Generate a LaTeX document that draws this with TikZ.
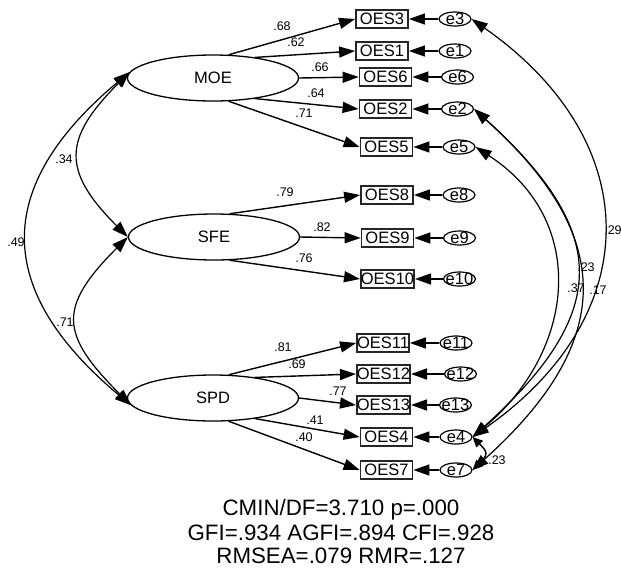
\documentclass[tikz,border=0pt]{standalone}
\usepackage{fontspec}
\setmainfont{Liberation Sans}
\usetikzlibrary{arrows.meta,shapes.geometric}
\begin{document}
\begin{tikzpicture}[x=1pt,y=1pt,
 lat/.style={ellipse, draw, line width=1.3pt, minimum width=171pt, minimum height=46pt, inner sep=0pt, font=\fontsize{16.5}{18}\selectfont},
 obs/.style={rectangle, draw=black!85, line width=1.8pt, minimum width=52pt, minimum height=18pt, inner sep=0pt, font=\fontsize{16.5}{18}\selectfont},
 err/.style={ellipse, draw, line width=1.2pt, minimum width=32pt, minimum height=14pt, inner sep=0pt},
 errt/.style={inner sep=0pt, font=\fontsize{16.5}{18}\selectfont},
 ld/.style={-{Triangle[length=16pt,width=11pt]}, line width=1.4pt},
 cov/.style={{Triangle[length=16pt,width=11pt]}-{Triangle[length=16pt,width=11pt]}, line width=1.2pt},
 covs/.style={{Triangle[length=10pt,width=9pt]}-{Triangle[length=10pt,width=9pt]}, line width=1.4pt},
 lab/.style={font=\fontsize{12.5}{13}\selectfont, inner sep=0pt},
 fitt/.style={font=\fontsize{22.3}{24}\selectfont, inner sep=0pt, anchor=base}
]
\useasboundingbox (0,0) rectangle (621,-574);

% latent variables
\node[lat] (MOE) at (213,-78) {MOE};
\node[lat] (SFE) at (214,-237) {SFE};
\node[lat] (SPD) at (213,-398) {SPD};

% observed variables
\node[obs] (OES3) at (382,-19) {OES3};
\node[obs] (OES1) at (382,-51) {OES1};
\node[obs] (OES6) at (385.5,-77) {OES6};
\node[obs] (OES2) at (385.5,-109) {OES2};
\node[obs] (OES5) at (386.5,-147) {OES5};
\node[obs] (OES8) at (387,-195) {OES8};
\node[obs] (OES9) at (387.5,-238) {OES9};
\node[obs] (OES10) at (387.5,-279) {OES10};
\node[obs] (OES11) at (383,-343) {OES11};
\node[obs] (OES12) at (383.5,-374) {OES12};
\node[obs] (OES13) at (383.5,-405) {OES13};
\node[obs] (OES4) at (386.5,-437) {OES4};
\node[obs] (OES7) at (386.5,-470) {OES7};

% error terms
\foreach \n/\x/\y in {e3/455/19, e1/455/51, e6/457.5/77, e2/457.5/109, e5/459/147,
  e8/459/195, e9/459.5/238, e10/459.5/279, e11/456/343, e12/460.5/374,
  e13/455.5/405, e4/456/437, e7/456/470}{
  \node[err] (\n) at (\x,-\y) {};
  \node[errt] (\n t) at (\n) {\n};
}

% error -> observed
\foreach \e/\o in {e3/OES3, e1/OES1, e6/OES6, e2/OES2, e5/OES5, e8/OES8, e9/OES9,
  e10/OES10, e11/OES11, e12/OES12, e13/OES13, e4/OES4, e7/OES7}{
  \draw[ld] (\e.west) -- (\o.east);
}

% loadings
\draw[ld] (MOE.56) -- (OES3.west);
\draw[ld] (MOE.26) -- (OES1.west);
\draw[ld] (MOE.east) -- (OES6.west);
\draw[ld] (MOE.-26) -- (OES2.west);
\draw[ld] (MOE.-56) -- (OES5.west);
\draw[ld] (SFE.56) -- (OES8.west);
\draw[ld] (SFE.east) -- (OES9.west);
\draw[ld] (SFE.-56) -- (OES10.west);
\draw[ld] (SPD.56) -- (OES11.west);
\draw[ld] (SPD.26) -- (OES12.west);
\draw[ld] (SPD.east) -- (OES13.west);
\draw[ld] (SPD.-26) -- (OES4.west);
\draw[ld] (SPD.-56) -- (OES7.west);

\node[lab] (l1) at (282,-26) {.68};
\node[lab] (l2) at (296,-42) {.62};
\node[lab] (l3) at (320,-67) {.66};
\node[lab] (l4) at (316,-93) {.64};
\node[lab] (l5) at (304,-113) {.71};
\node[lab] (l6) at (285,-192) {.79};
\node[lab] (l7) at (322,-227) {.82};
\node[lab] (l8) at (304,-258) {.76};
\node[lab] (l9) at (283,-347) {.81};
\node[lab] (l10) at (297,-364) {.69};
\node[lab] (l11) at (338,-391) {.77};
\node[lab] (l12) at (315,-420) {.41};
\node[lab] (l13) at (304,-437) {.40};

% latent covariances
\draw[cov] (MOE.176) to[out=225,in=135,distance=94] (SFE.west);
\draw[cov] (MOE.176) to[out=220,in=140,distance=179] (SPD.185);
\draw[cov] (SFE.west) to[out=225,in=135,distance=100] (SPD.185);
\node[lab] (c1) at (64,-159) {.34};
\node[lab] (c2) at (16,-242) {.49};
\node[lab] (c3) at (65,-322) {.71};

% error covariances
\draw[cov] (e3.east) to[out=-35,in=35,distance=213] (e4.east);
\draw[cov] (e2.east) to[out=-42,in=42,distance=185] (e4.east);
\draw[cov] (e2.east) to[out=-42,in=42,distance=192] (e7.east);
\draw[cov] (e5.east) to[out=-33,in=40,distance=135] (e4.east);
\draw[covs] (e4.east) to[out=-45,in=45,distance=22] (e7.east);
\node[lab] (c4) at (613,-230) {.29};
\node[lab] (c5) at (586,-267) {.23};
\node[lab] (c6) at (576,-288) {.37};
\node[lab] (c7) at (598,-290) {.17};
\node[lab] (c8) at (497,-460) {.23};

% fit indices
\node[fitt] (f1) at (341,-515) {CMIN/DF=3.710 p=.000};
\node[fitt] (f2) at (341,-540) {GFI=.934 AGFI=.894 CFI=.928};
\node[fitt] (f3) at (341,-563) {RMSEA=.079 RMR=.127};
\end{tikzpicture}
\end{document}
